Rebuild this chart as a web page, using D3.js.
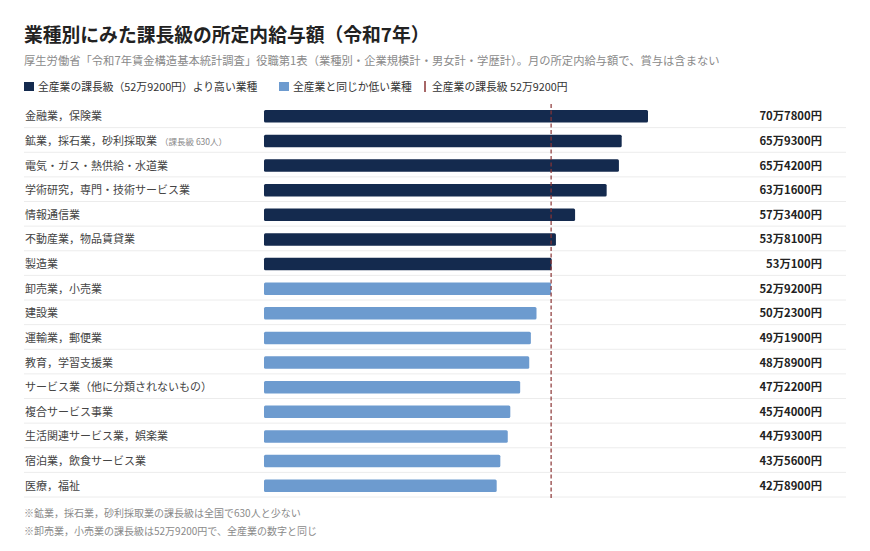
<!DOCTYPE html>
<html lang="ja">
<head>
<meta charset="UTF-8">
<title>業種別にみた課長級の所定内給与額</title>
<script src="https://d3js.org/d3.v7.min.js"></script>
<style>
  body { margin:0; background:#fff; }
  svg { display:block; font-family:"Noto Sans CJK JP", "Noto Sans", sans-serif; }
</style>
</head>
<body>
<svg id="chart" width="870" height="551"></svg>
<script>
const industries = [
  "金融業，保険業",
  "鉱業，採石業，砂利採取業",
  "電気・ガス・熱供給・水道業",
  "学術研究，専門・技術サービス業",
  "情報通信業",
  "不動産業，物品賃貸業",
  "製造業",
  "卸売業，小売業",
  "建設業",
  "運輸業，郵便業",
  "教育，学習支援業",
  "サービス業（他に分類されないもの）",
  "複合サービス事業",
  "生活関連サービス業，娯楽業",
  "宿泊業，飲食サービス業",
  "医療，福祉"
];
const salaries = [707800, 659300, 654200, 631600, 573400, 538100, 530100, 529200,
                  502300, 491900, 488900, 472200, 454000, 449300, 435600, 428900];
const labelNotes = { "鉱業，採石業，砂利採取業": "（課長級 630人）" };
const allIndustry = 529200;

const title = "業種別にみた課長級の所定内給与額（令和7年）";
const subtitle = "厚生労働省「令和7年賃金構造基本統計調査」役職第1表（業種別・企業規模計・男女計・学歴計）。月の所定内給与額で、賞与は含まない";
const legendItems = ["全産業の課長級（52万9200円）より高い業種", "全産業と同じか低い業種", "全産業の課長級 52万9200円"];
const footnotes = [
  "※鉱業，採石業，砂利採取業の課長級は全国で630人と少ない",
  "※卸売業，小売業の課長級は52万9200円で、全産業の数字と同じ"
];

const dark = "#142a4e", light = "#6d9bcf", refColor = "#8a3434";

const svg = d3.select("#chart");

const x = d3.scaleLinear().domain([0, d3.max(salaries)]).range([264, 648]);
const y = d3.scaleBand().domain(industries).range([103, 497]).paddingInner(0).paddingOuter(0);
const barH = 12.5;

const fmt = v => Math.floor(v / 10000) + "万" + (v % 10000) + "円";

// タイトル
svg.append("text").attr("x", 24).attr("y", 42)
  .attr("font-size", 18.8).attr("font-weight", 700).attr("fill", "#222").text(title);
svg.append("text").attr("x", 24).attr("y", 65)
  .attr("font-size", 11.3).attr("fill", "#8a8a8a").text(subtitle);

// 凡例
const lg = svg.append("g").attr("font-size", 10.8).attr("fill", "#333");
lg.append("rect").attr("x", 24).attr("y", 82).attr("width", 10).attr("height", 9).attr("fill", dark);
lg.append("text").attr("x", 38).attr("y", 91).text(legendItems[0]);
lg.append("rect").attr("x", 279).attr("y", 82).attr("width", 10).attr("height", 9).attr("fill", light);
lg.append("text").attr("x", 293).attr("y", 91).text(legendItems[1]);
lg.append("line").attr("x1", 425).attr("x2", 425).attr("y1", 81).attr("y2", 92)
  .attr("stroke", refColor).attr("stroke-width", 1.5);
lg.append("text").attr("x", 432).attr("y", 91).text(legendItems[2]);

const rows = svg.append("g");
const data = industries.map((d, i) => ({ name: d, value: salaries[i] }));

// 区切り線
rows.selectAll("line.sep").data(data).join("line")
  .attr("class", "sep")
  .attr("x1", 24).attr("x2", 846)
  .attr("y1", d => y(d.name) + y.bandwidth()).attr("y2", d => y(d.name) + y.bandwidth())
  .attr("stroke", "#ececec").attr("stroke-width", 1);

// 棒
rows.selectAll("rect.bar").data(data).join("rect")
  .attr("class", "bar")
  .attr("x", x(0))
  .attr("y", d => y(d.name) + y.bandwidth() / 2 - barH / 2 + 1)
  .attr("width", d => x(d.value) - x(0))
  .attr("height", barH)
  .attr("rx", 1.5)
  .attr("fill", d => d.value > allIndustry ? dark : light);

// 業種ラベル
const lab = rows.selectAll("text.lab").data(data).join("text")
  .attr("class", "lab")
  .attr("x", 25)
  .attr("y", d => y(d.name) + y.bandwidth() / 2 + 5)
  .attr("font-size", 11).attr("fill", "#444");
lab.append("tspan").text(d => d.name);
lab.filter(d => labelNotes[d.name]).append("tspan")
  .attr("dx", 3).attr("font-size", 8.5).attr("fill", "#888")
  .text(d => labelNotes[d.name]);

// 値ラベル
rows.selectAll("text.val").data(data).join("text")
  .attr("class", "val")
  .attr("x", 822)
  .attr("y", d => y(d.name) + y.bandwidth() / 2 + 5)
  .attr("text-anchor", "end")
  .attr("font-size", 11.3).attr("font-weight", 700).attr("fill", "#222")
  .text(d => fmt(d.value));

// 全産業の基準線
svg.append("line")
  .attr("x1", x(allIndustry)).attr("x2", x(allIndustry))
  .attr("y1", 104).attr("y2", 499)
  .attr("stroke", refColor).attr("stroke-width", 1.2)
  .attr("stroke-dasharray", "4,2.5");

// 注記
svg.selectAll("text.note").data(footnotes).join("text")
  .attr("class", "note")
  .attr("x", 24).attr("y", (d, i) => 517 + i * 18)
  .attr("font-size", 10).attr("fill", "#8a8a8a")
  .text(d => d);
</script>
</body>
</html>
